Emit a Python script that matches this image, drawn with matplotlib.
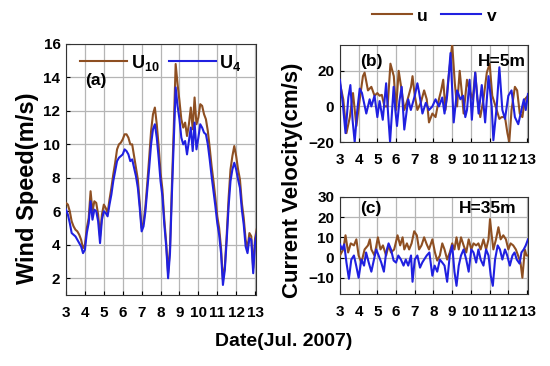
import numpy as np
import matplotlib
matplotlib.use('Agg')
import matplotlib.pyplot as plt
from matplotlib.lines import Line2D

plt.rcParams['font.family'] = ['Liberation Sans', 'DejaVu Sans']
plt.rcParams['font.weight'] = 'bold'
plt.rcParams['mathtext.fontset'] = 'custom'
plt.rcParams['mathtext.bf'] = 'Liberation Sans:bold'

brown = '#8E4F22'
blue = '#2020E0'
gridc = '#b5b5b5'

# panel (a): wind speed, one sample every 0.1 day from 3.0 to 13.1
day_a = np.round(np.arange(3.0, 13.15, 0.1), 2)
u10 = [6.5, 6.4, 6.0, 5.4, 5.1, 4.9, 4.8, 4.6, 4.3, 3.8,
       4.0, 5.0, 5.6, 7.2, 6.0, 6.6, 6.5, 5.8, 4.5, 5.8,
       6.4, 6.2, 5.9, 6.7, 7.4, 8.2, 8.9, 9.7, 10.0, 10.1,
       10.3, 10.6, 10.6, 10.4, 10.0, 10.0, 9.3, 8.6, 7.9, 6.5,
       5.0, 5.3, 6.3, 7.7, 9.2, 10.8, 11.8, 12.2, 11.2, 9.9,
       8.3, 7.3, 5.5, 4.1, 2.3, 3.8, 7.5, 11.0, 14.8, 13.6,
       12.6, 11.5, 11.0, 11.3, 10.5, 11.2, 12.2, 10.9, 12.8, 11.2,
       11.6, 12.4, 12.3, 11.8, 11.5, 10.8, 9.8, 8.7, 7.8, 6.8,
       5.7, 5.0, 3.8, 1.9, 2.7, 4.6, 6.8, 8.5, 9.3, 9.9,
       9.3, 8.5, 7.9, 6.5, 5.6, 4.3, 3.8, 4.7, 4.5, 2.6,
       4.4, 5.0]
u4 = [6.1, 5.8, 5.3, 4.7, 4.6, 4.5, 4.3, 4.1, 3.9, 3.5,
      3.7, 4.7, 5.3, 6.6, 5.5, 6.1, 6.0, 5.4, 4.1, 5.5,
      6.0, 5.9, 5.7, 6.4, 7.0, 7.8, 8.4, 9.0, 9.2, 9.3,
      9.4, 9.7, 9.6, 9.4, 9.0, 9.1, 8.6, 8.1, 7.4, 6.2,
      4.8, 5.1, 6.0, 7.3, 8.6, 10.0, 10.9, 11.2, 10.4, 9.2,
      7.8, 6.9, 5.2, 3.9, 2.0, 3.5, 7.0, 10.2, 13.4, 12.3,
      11.5, 10.4, 10.0, 10.2, 9.4, 10.2, 11.0, 9.6, 11.3, 9.7,
      10.4, 11.2, 11.0, 10.7, 10.6, 10.0, 9.1, 8.1, 7.2, 6.3,
      5.3, 4.6, 3.5, 1.6, 2.5, 4.3, 6.3, 7.8, 8.5, 8.9,
      8.5, 7.9, 7.4, 6.1, 5.2, 3.9, 3.5, 4.4, 4.3, 2.3,
      4.1, 4.8]

# panel (b): current at H=5m
day_bu = [3.0, 3.18, 3.35, 3.53, 3.7, 3.88, 4.06, 4.23, 4.32, 4.5, 4.68, 4.85, 5.0,
          5.12, 5.24, 5.38, 5.55, 5.7, 5.88, 6.0, 6.14, 6.3, 6.44, 6.62, 6.8, 6.88,
          7.0, 7.14, 7.32, 7.5, 7.64, 7.76, 7.94, 8.11, 8.29, 8.41, 8.52, 8.64, 8.77,
          9.0, 9.14, 9.26, 9.4, 9.53, 9.61, 9.79, 9.93, 10.1, 10.23, 10.35, 10.5,
          10.67, 10.85, 11.0, 11.14, 11.32, 11.52, 11.64, 11.82, 11.95, 12.05, 12.17,
          12.35, 12.47, 12.61, 12.75, 12.88, 13.05]
u_b = [13, 4, -15, -6, 7.5, -11, 4, 17, 19, 9, 11, 6, 7.5,
       6, 6.5, 0, 0, 24, 17, -2, 20, 9, -2, 4, 11, 17,
       6, -2, 2, 9, 4, -9, -4, -6, 4, 9, 15, -2, 13,
       35, 13, 0, 20, 6, -4, 15, 9, 4, 19, 4, -6,
       4, 19, 24, 6, 0, -7, -6, -6, -15, -20, -2,
       11, 9, -4, -6, 4, 6]
day_bv = [3.0, 3.15, 3.3, 3.45, 3.56, 3.68, 3.79, 3.92, 4.06, 4.18, 4.29, 4.41, 4.59,
          4.68, 4.85, 5.0, 5.12, 5.29, 5.47, 5.58, 5.68, 5.87, 5.96, 6.05, 6.18, 6.3,
          6.44, 6.65, 6.79, 7.0, 7.14, 7.23, 7.41, 7.59, 7.76, 7.94, 8.11, 8.29, 8.47,
          8.59, 8.73, 8.91, 9.08, 9.26, 9.44, 9.58, 9.7, 9.79, 9.93, 10.05, 10.23,
          10.41, 10.58, 10.76, 10.94, 11.11, 11.2, 11.38, 11.52, 11.68, 11.82, 12.0,
          12.17, 12.35, 12.53, 12.7, 12.83, 12.93, 13.05]
v_b = [15, 2, -15, 5, 12, -8, -20, -3, 10, 7.5, 2, -4, 4,
       0, 6, -6, 3, -7.5, 13, -5, -20, 11, -2, -11, 3, 11,
       -13, 4, -2, 6, 13, 8, -4, 2, -2, 0, 4, 0, 5,
       -4, 6, 30, -9, 9, 4, 6, -6, -2, 15, -7.5, 19,
       -4, 12, -9, 17, 0, -19, 0, 22, -2, -7, 6,
       9, -6, -10, -2, 4, -2, 7]

# panel (c): current at H=35m
day_cu = [3.0, 3.18, 3.3, 3.44, 3.58, 3.75, 3.88, 4.0, 4.15, 4.32, 4.5, 4.6, 4.68,
          4.85, 5.03, 5.17, 5.3, 5.47, 5.6, 5.73, 5.9, 6.08, 6.22, 6.35, 6.44, 6.58,
          6.7, 6.83, 6.97, 7.11, 7.23, 7.36, 7.5, 7.64, 7.76, 7.94, 8.08, 8.2, 8.34,
          8.47, 8.59, 8.73, 8.87, 9.0, 9.12, 9.23, 9.35, 9.47, 9.61, 9.75, 9.88,
          10.02, 10.14, 10.28, 10.4, 10.52, 10.67, 10.81, 10.94, 11.02, 11.11, 11.2,
          11.34, 11.47, 11.59, 11.73, 11.87, 12.0, 12.12, 12.26, 12.4, 12.52, 12.65,
          12.75, 12.88, 12.97, 13.05]
u_c = [1, 4, 11, 2.5, 7, 6, 9, 1, -2.5, 4, 6, 9, 4,
       1, 10, 4, 6, 1, 6, 2.5, 4, 11, 6, 10, 4, 7,
       4, 7, 13, 11, 4, 6, 10, 6.5, 4, 9, 2.5, -1.5, 1,
       7, 4, -1, 2.5, 7, 4, 10, 4, 10, 6, 2.5, 9,
       4, 7, 6, 7, 4, 9, 4, 9, 19, 11, 4,
       9, 15, 9, 11, 9, 4, 7, 6, 4, 1, -2.5,
       -10, 4, 1, 1]
day_cv = [3.0, 3.12, 3.23, 3.35, 3.48, 3.61, 3.75, 3.87, 4.0, 4.15, 4.29, 4.4, 4.54,
          4.68, 4.82, 4.94, 5.07, 5.21, 5.35, 5.47, 5.6, 5.73, 5.87, 6.0, 6.12, 6.26,
          6.4, 6.52, 6.65, 6.8, 6.88, 7.0, 7.14, 7.28, 7.4, 7.5, 7.64, 7.78, 7.94,
          8.06, 8.2, 8.34, 8.47, 8.59, 8.73, 8.87, 9.0, 9.12, 9.23, 9.35, 9.47,
          9.61, 9.75, 9.88, 10.02, 10.14, 10.28, 10.4, 10.52, 10.67, 10.81, 10.94,
          11.06, 11.17, 11.29, 11.43, 11.55, 11.68, 11.82, 11.94, 12.08, 12.22,
          12.33, 12.45, 12.6, 12.7, 12.82, 12.93, 13.05]
v_c = [6.5, 4, 6.5, -2.5, -10.5, -1, 1, -4, -10, -1, -4, 2.5, -2.5,
       -7, -1, 4, 1, -2.5, -7, 2.5, 7, 4, -1.5, -2.5, 1, -1,
       -4, -1, -4, 1, -12, -1, 1, -5, -2.5, -1, 1, 2.5, -9,
       -4, -7, -1, -2.5, -4, -12, 1, 6, -7, -14, -4, 1,
       4, -1, -7, 4, 2.5, -2.5, 4, -1, -4, 4, 1,
       -9, -14, -1, 6, 4, -1, 4, 1, -4, 1,
       2.5, -1, -3, 2.5, 4, 6, 9]

xticks = list(range(3, 14))

fig = plt.figure(figsize=(5.5, 3.66), dpi=100)
ax_a = fig.add_axes([0.12, 0.194, 0.3455, 0.686])
ax_b = fig.add_axes([0.618, 0.612, 0.342, 0.265])
ax_c = fig.add_axes([0.618, 0.197, 0.342, 0.265])

lw = 1.5
ax_a.plot(day_a, u10, color=brown, lw=lw, zorder=3)
ax_a.plot(day_a, u4, color=blue, lw=lw, zorder=3)
ax_a.set_ylim(1, 16)
ax_a.set_yticks(range(2, 17, 2))
ax_a.text(0.1, 0.853, '(a)', transform=ax_a.transAxes, fontsize=12.5,
          fontweight='bold', va='center')
ax_a.legend([Line2D([], [], color=brown, lw=1.5), Line2D([], [], color=blue, lw=1.5)],
            [r'$\mathbf{U_{10}}$', r'$\mathbf{U_4}$'], ncol=2, frameon=False,
            loc='upper center', bbox_to_anchor=(0.5, 1.03), fontsize=13,
            handlelength=2.6, handletextpad=0.2, columnspacing=0.5)

ax_b.plot(day_bu, u_b, color=brown, lw=lw, zorder=3)
ax_b.plot(day_bv, v_b, color=blue, lw=lw, zorder=3)
ax_b.set_ylim(-20, 34.5)
ax_b.set_yticks([-20, 0, 20])
ax_b.text(0.106, 0.835, '(b)', transform=ax_b.transAxes, fontsize=12.5,
          fontweight='bold', va='center')
ax_b.text(0.99, 0.835, 'H=5m', transform=ax_b.transAxes, fontsize=12.5,
          fontweight='bold', ha='right', va='center')
ax_b.legend([Line2D([], [], color=brown, lw=1.5), Line2D([], [], color=blue, lw=1.5)],
            ['u', 'v'], ncol=2, frameon=False, loc='lower center',
            bbox_to_anchor=(0.5, 1.06), fontsize=12.5,
            handlelength=2.3, handletextpad=0.3, columnspacing=0.8)

ax_c.plot(day_cu, u_c, color=brown, lw=lw, zorder=3)
ax_c.plot(day_cv, v_c, color=blue, lw=lw, zorder=3)
ax_c.set_ylim(-18, 30)
ax_c.set_yticks([-10, 0, 10, 20, 30])
ax_c.text(0.106, 0.876, '(c)', transform=ax_c.transAxes, fontsize=12.5,
          fontweight='bold', va='center')
ax_c.text(0.94, 0.876, 'H=35m', transform=ax_c.transAxes, fontsize=12.5,
          fontweight='bold', ha='right', va='center')

for ax in (ax_a, ax_b, ax_c):
    ax.set_xlim(3, 13.05)
    ax.set_xticks(xticks)
    ax.tick_params(axis='x', direction='in', labelsize=11, length=3, pad=8, width=0.8)
    ax.tick_params(axis='y', direction='in', labelsize=11, length=3, pad=4, width=0.8)
    # grid lines drawn at the axis' own tick positions
    ax.vlines(ax.get_xticks(), 0, 1, transform=ax.get_xaxis_transform(),
              colors=gridc, linewidth=0.9, zorder=1)
    ax.hlines(ax.get_yticks(), 0, 1, transform=ax.get_yaxis_transform(),
              colors=gridc, linewidth=0.9, zorder=1)
    for lab in ax.get_xticklabels() + ax.get_yticklabels():
        lab.set_fontweight('bold')
    for s in ax.spines.values():
        s.set_color('#333333')
        s.set_linewidth(0.8)

fig.text(0.05, 0.485, 'Wind Speed(m/s)', rotation=90, ha='center',
         va='center', fontsize=17, fontweight='bold')
fig.text(0.531, 0.508, 'Current Velocity(cm/s)', rotation=90, ha='center',
         va='center', fontsize=16, fontweight='bold')
fig.text(0.515, 0.068, 'Date(Jul. 2007)', ha='center', va='center',
         fontsize=14, fontweight='bold')

fig.savefig('out.png', dpi=100)
